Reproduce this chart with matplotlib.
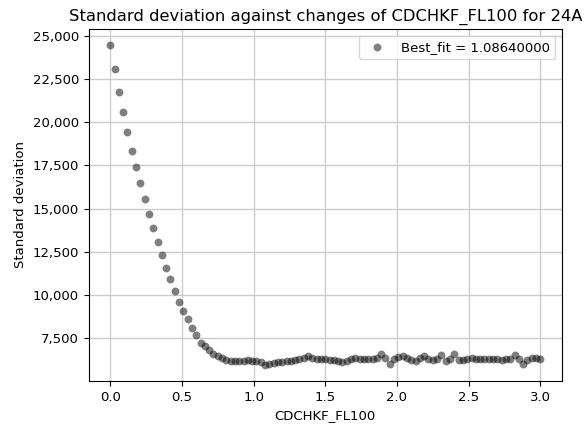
import numpy as np
import matplotlib.pyplot as plt
from matplotlib.ticker import StrMethodFormatter

# parameter sweep (0 to 3.0, 101 steps)
fl100 = np.linspace(0, 3.0, 101)
std_dev = [
    24477, 23064, 21762, 20581, 19459, 18314, 17384, 16471, 15581, 14709,
    13895, 13081, 12308, 11570, 10948, 10233, 9610, 9052, 8622, 8081,
    7713, 7229, 7035, 6841, 6589, 6454, 6357, 6260, 6202, 6202,
    6163, 6200, 6250, 6200, 6200, 6100, 5960, 6030, 6080, 6100,
    6150, 6170, 6200, 6230, 6280, 6350, 6450, 6350, 6300, 6280,
    6280, 6250, 6250, 6200, 6120, 6200, 6300, 6380, 6300, 6280,
    6280, 6300, 6380, 6600, 6350, 6030, 6300, 6400, 6480, 6350,
    6250, 6180, 6380, 6500, 6300, 6250, 6300, 6550, 6180, 6300,
    6600, 6240, 6250, 6300, 6380, 6280, 6280, 6280, 6300, 6280,
    6280, 6250, 6300, 6300, 6550, 6300, 6030, 6250, 6350, 6380,
    6300,
]
best_fit = 1.0864

fig = plt.figure(figsize=(5.84, 4.26), dpi=100)
ax = fig.add_axes([0.152, 0.106, 0.81, 0.826])
ax.scatter(fl100, std_dev, s=32, color='black', alpha=0.5, linewidths=0,
           label='Best_fit = %.8f' % best_fit)
ax.set_title('Standard deviation against changes of CDCHKF_FL100 for 24A', fontsize=11.8)
ax.set_xlabel('CDCHKF_FL100', fontsize=9.5)
ax.set_ylabel('Standard deviation', fontsize=9.5)
ax.tick_params(labelsize=9.5)
ax.yaxis.set_major_formatter(StrMethodFormatter('{x:,.0f}'))
ax.grid(color='#cccccc', linewidth=1)
ax.set_axisbelow(True)
ax.legend(loc='upper right', fontsize=9.5)

fig.savefig('out.png')
